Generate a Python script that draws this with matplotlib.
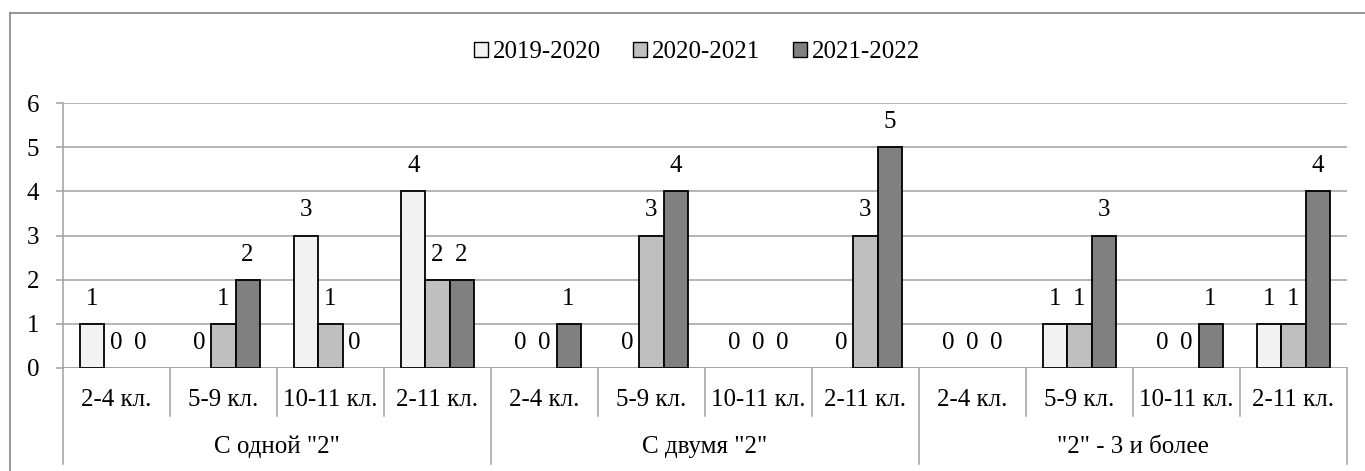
import matplotlib
matplotlib.use("Agg")
import matplotlib.pyplot as plt
from matplotlib.lines import Line2D
from matplotlib.patches import Patch
import matplotlib.transforms as mtransforms

plt.rcParams['font.family'] = ['Liberation Serif', 'DejaVu Serif']

groups = ['С одной "2"', 'С двумя "2"', '"2" - 3 и более']
subcats = ['2-4 кл.', '5-9 кл.', '10-11 кл.', '2-11 кл.']
series_names = ['2019-2020', '2020-2021', '2021-2022']
s2019 = [1, 0, 3, 4, 0, 0, 0, 0, 0, 1, 0, 1]
s2020 = [0, 1, 1, 2, 0, 3, 0, 3, 0, 1, 0, 1]
s2021 = [0, 2, 0, 2, 1, 4, 0, 5, 0, 3, 1, 4]
colors = ['#F2F2F2', '#BFBFBF', '#808080']

FS = 18
W, H = 1365, 471
fig = plt.figure(figsize=(W / 100, H / 100), dpi=100)
ax = fig.add_axes([63 / W, (H - 368) / H, (1347 - 63) / W, (368 - 103) / H])

n = len(s2019)
xs = list(range(n))
bw = 0.225
grid_c = '#A0A0A0'
for k, (vals, c) in enumerate(zip([s2019, s2020, s2021], colors)):
    pos = [x + (k - 1) * bw for x in xs]
    edges = ['black' if v != 0 else 'none' for v in vals]
    ax.bar(pos, vals, width=bw, color=c, edgecolor=edges, linewidth=1.3, zorder=3)
    for p, v in zip(pos, vals):
        ax.annotate(str(v), (p, v), xytext=(0, 18), textcoords='offset points',
                    ha='center', va='center', fontsize=FS, zorder=4)

ax.set_xlim(-0.5, n - 0.5)
ax.set_ylim(0, 6)
ax.set_yticks(range(7))
ax.yaxis.grid(True, color=grid_c, linewidth=1.1, zorder=0)
ax.set_axisbelow(True)
for s in ['top', 'right', 'bottom']:
    ax.spines[s].set_visible(False)
ax.spines['left'].set_color(grid_c)
ax.spines['left'].set_linewidth(1.1)
ax.tick_params(axis='y', length=5, color=grid_c, width=1.1, labelsize=FS, pad=12)
ax.set_xticks([])
ax.axhline(0, color=grid_c, linewidth=1.1, zorder=2)

trans = mtransforms.blended_transform_factory(ax.transData, ax.transAxes)
ax_h = 368 - 103
sub_bot = -(416 - 368) / ax_h
grp_bot = -(464 - 368) / ax_h
for i in range(n + 1):
    xb = i - 0.5
    ybot = grp_bot if i % 4 == 0 else sub_bot
    ax.plot([xb, xb], [0, ybot], transform=trans, color=grid_c, linewidth=1.1, clip_on=False)
for i in range(n):
    ax.text(i, -(400 - 368) / ax_h, subcats[i % 4], transform=trans, ha='center', va='center', fontsize=FS)
for g, name in enumerate(groups):
    ax.text(g * 4 + 1.5, -(447 - 368) / ax_h, name, transform=trans, ha='center', va='center', fontsize=FS)

# outer frame
fig.add_artist(Line2D([10 / W, 10 / W], [0, 1 - 13 / H], color='#8C8C8C', linewidth=1.3, transform=fig.transFigure))
fig.add_artist(Line2D([10 / W, 1], [1 - 13 / H, 1 - 13 / H], color='#8C8C8C', linewidth=1.3, transform=fig.transFigure))

handles = [Patch(facecolor=c, edgecolor='black', linewidth=1.0) for c in colors]
fig.legend(handles, series_names, loc='center', bbox_to_anchor=(697 / W, 1 - 52 / H), ncol=3, frameon=False,
           fontsize=FS, handlelength=0.55, handleheight=0.55, handletextpad=0.2, columnspacing=1.3)

fig.savefig('out.png', dpi=100)
